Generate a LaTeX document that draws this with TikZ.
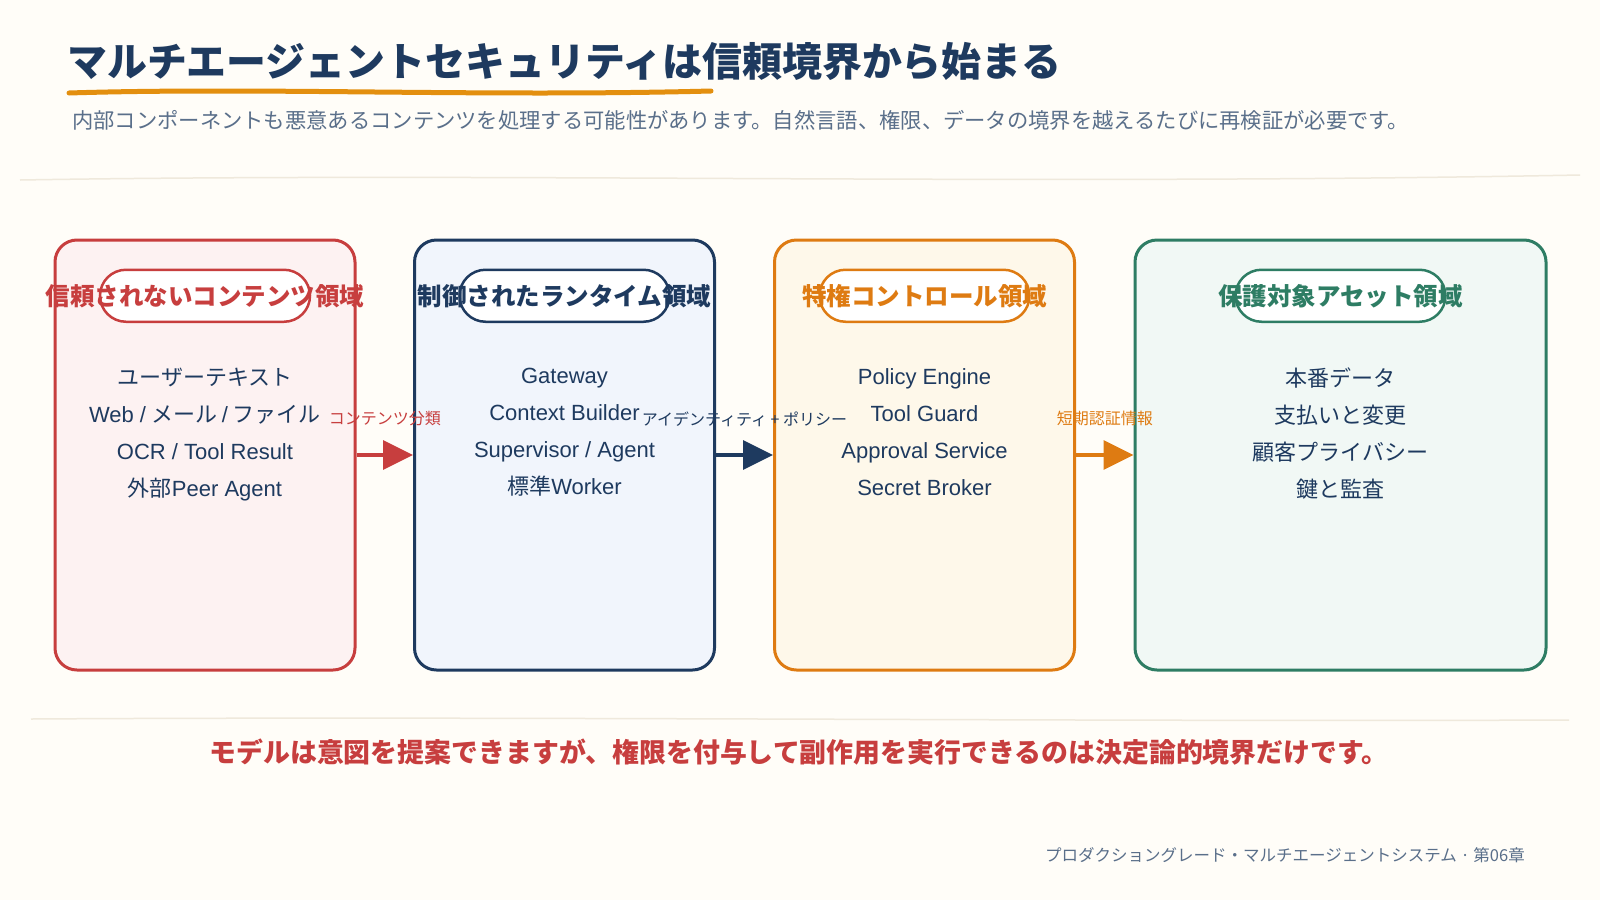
\documentclass[tikz,border=0pt]{standalone}
\usepackage{fontspec}
\setmainfont{Noto Sans CJK JP}
\newfontfamily\lat{Liberation Sans}
\usepackage{xcolor}
\usetikzlibrary{arrows.meta,positioning,calc}
\definecolor{fondo}{HTML}{FFFDF8}
\definecolor{azul}{HTML}{1E3A5F}
\definecolor{gris}{HTML}{5A6F8A}
\definecolor{linea}{HTML}{EFE9DC}
\definecolor{rojo}{HTML}{C73E3E}
\definecolor{rojofondo}{HTML}{FDF2F2}
\definecolor{azulfondo}{HTML}{F1F5FC}
\definecolor{naranja}{HTML}{DE7B12}
\definecolor{naranjafondo}{HTML}{FEF8EA}
\definecolor{verde}{HTML}{2E7D64}
\definecolor{verdefondo}{HTML}{F1F8F5}
\tikzset{
  zona/.style={rectangle, line width=3pt, rounded corners=22pt,
               minimum width=300pt, minimum height=430pt},
  pildora/.style={rectangle, fill=white, line width=2.5pt, rounded corners=26pt,
                  minimum width=210pt, minimum height=52pt},
  titulozona/.style={font=\fontsize{24.5}{28}\selectfont\bfseries, inner sep=0pt},
  elementos/.style={align=center, text=azul, inner sep=0pt,
                    font=\fontsize{22}{37}\selectfont},
  flecha/.style={-{Triangle[length=30pt,width=29pt]}, line width=3.5pt},
  etiqueta/.style={font=\fontsize{16}{18}\selectfont, inner sep=0pt, above=27pt}
}
\begin{document}
\begin{tikzpicture}[x=1pt, y=-1pt]
  \fill[fondo] (0,0) rectangle (1600,900);
  \useasboundingbox (0,0) rectangle (1600,900);

  % Cabecera
  \node[anchor=base west, inner sep=0pt, text=azul,
        font=\fontsize{39.9}{44}\selectfont\bfseries] (titulo) at (67,76)
        {マルチエージェントセキュリティは信頼境界から始まる};
  \draw[line width=5pt, line cap=round, color=naranja!85!yellow]
        (69,93) .. controls (260,87) and (480,97) .. (711,91);
  \node[anchor=base west, inner sep=0pt, text=gris,
        font=\fontsize{21.3}{24}\selectfont] (sub) at (72,128)
        {内部コンポーネントも悪意あるコンテンツを処理する可能性があります。自然言語、権限、データの境界を越えるたびに再検証が必要です。};
  \draw[linea, line width=1.5pt] (20,180) .. controls (500,172) and (1000,186) .. (1580,175);

  % Zonas
  \node[zona, draw=rojo, fill=rojofondo] (z1) at (205,455) {};
  \node[zona, draw=azul, fill=azulfondo] (z2) at (564.5,455) {};
  \node[zona, draw=naranja, fill=naranjafondo] (z3) at (924.5,455) {};
  \node[zona, draw=verde, fill=verdefondo, minimum width=411pt] (z4) at (1340.5,455) {};

  \node[pildora, draw=rojo, below=30pt of z1.north] (p1) {};
  \node[pildora, draw=azul, below=30pt of z2.north] (p2) {};
  \node[pildora, draw=naranja, below=30pt of z3.north] (p3) {};
  \node[pildora, draw=verde, below=30pt of z4.north] (p4) {};

  \node[titulozona, text=rojo] at (p1) {信頼されないコンテンツ領域};
  \node[titulozona, text=azul] at (p2) {制御されたランタイム領域};
  \node[titulozona, text=naranja] at (p3) {特権コントロール領域};
  \node[titulozona, text=verde] at (p4) {保護対象アセット領域};

  \node[elementos, below=45pt of p1] (e1) {ユーザーテキスト\\{\lat Web /} メール {\lat /} ファイル\\{\lat OCR / Tool Result}\\外部{\lat Peer Agent}};
  \node[elementos, below=45pt of p2] (e2) {{\lat Gateway}\\{\lat Context Builder}\\{\lat Supervisor / Agent}\\標準{\lat Worker}};
  \node[elementos, below=45pt of p3] (e3) {{\lat Policy Engine}\\{\lat Tool Guard}\\{\lat Approval Service}\\{\lat Secret Broker}};
  \node[elementos, below=45pt of p4] (e4) {本番データ\\支払いと変更\\顧客プライバシー\\鍵と監査};

  % Flechas
  \draw[flecha, rojo] (z1.east) -- (z2.west)
        node[midway, etiqueta, text=rojo] {コンテンツ分類};
  \draw[flecha, azul] (z2.east) -- (z3.west)
        node[midway, etiqueta, text=azul] {アイデンティティ + ポリシー};
  \draw[flecha, naranja] (z3.east) -- (z4.west)
        node[midway, etiqueta, text=naranja] {短期認証情報};

  % Pie
  \draw[linea, line width=1.5pt] (31,719) .. controls (500,716) and (1100,722) .. (1569,720);
  \node[anchor=base, inner sep=0pt, text=rojo,
        font=\fontsize{26.9}{30}\selectfont\bfseries] (nota) at (799,762)
        {モデルは意図を提案できますが、権限を付与して副作用を実行できるのは決定論的境界だけです。};
  \node[anchor=base east, inner sep=0pt, text=gris,
        font=\fontsize{16.5}{18}\selectfont] (pie) at (1525,861)
        {プロダクショングレード・マルチエージェントシステム · 第06章};
\end{tikzpicture}
\end{document}
